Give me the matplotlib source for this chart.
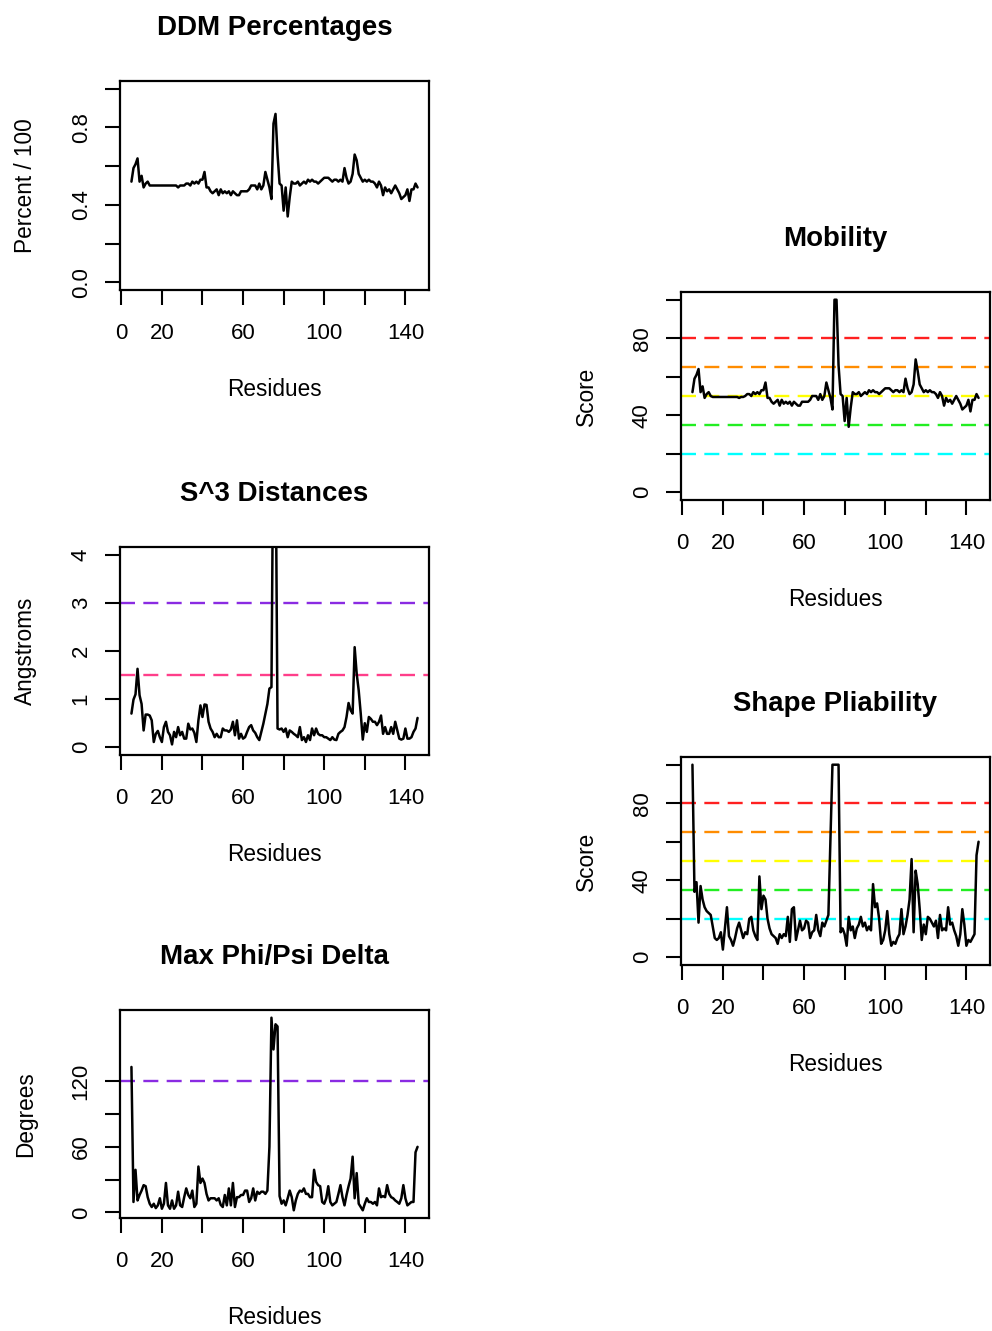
import matplotlib
matplotlib.use("Agg")
import matplotlib.pyplot as plt

plt.rcParams['font.family'] = ['Liberation Sans', 'DejaVu Sans']
plt.rcParams['lines.scale_dashes'] = False

# ---------------- data ----------------
residues = list(range(5, 147))

ddm = [0.52, 0.59, 0.61, 0.64, 0.52, 0.55, 0.49, 0.51, 0.52, 0.50,
       0.50, 0.50, 0.50, 0.50, 0.50, 0.50, 0.50, 0.50, 0.50, 0.50, 0.50, 0.50, 0.50,
       0.49,
       0.50, 0.50, 0.50, 0.51, 0.51, 0.50, 0.52, 0.51, 0.52, 0.51, 0.53, 0.53,
       0.57,
       0.49, 0.49, 0.47, 0.46, 0.47, 0.48, 0.45, 0.48, 0.46, 0.47, 0.46, 0.47, 0.45,
       0.47, 0.46, 0.45, 0.45, 0.47, 0.47, 0.47, 0.47, 0.48, 0.50, 0.50, 0.50, 0.48,
       0.51, 0.48, 0.50, 0.57, 0.53, 0.49, 0.43, 0.82, 0.87, 0.66, 0.51, 0.50, 0.37,
       0.49, 0.34, 0.44, 0.52,
       0.51, 0.51, 0.52, 0.50, 0.51, 0.52, 0.51, 0.53, 0.52, 0.53, 0.52, 0.52, 0.51,
       0.52, 0.53, 0.54, 0.54, 0.54, 0.53, 0.52, 0.53, 0.53, 0.52, 0.53,
       0.52, 0.59, 0.54, 0.51, 0.52, 0.56, 0.66, 0.63, 0.56, 0.54, 0.52, 0.53, 0.52,
       0.53, 0.52, 0.52, 0.51, 0.49,
       0.52, 0.50, 0.45, 0.49, 0.47, 0.48, 0.46, 0.48, 0.50, 0.48, 0.46, 0.43, 0.44,
       0.45, 0.48, 0.42, 0.48, 0.48, 0.51, 0.49]

s3 = [0.70, 0.99, 1.10, 1.63, 1.08, 0.90, 0.35, 0.68, 0.68, 0.66, 0.56, 0.11, 0.28,
      0.34, 0.21, 0.11, 0.42, 0.53, 0.32, 0.25, 0.06, 0.32, 0.21, 0.42, 0.25, 0.32,
      0.18, 0.18, 0.49, 0.37, 0.39, 0.30, 0.11, 0.56, 0.87, 0.63, 0.89, 0.88, 0.53,
      0.39, 0.32, 0.21, 0.28, 0.21, 0.21, 0.39, 0.35, 0.35, 0.32, 0.37, 0.53, 0.25,
      0.56, 0.18, 0.28, 0.18, 0.21, 0.32, 0.42, 0.46, 0.35, 0.30, 0.21, 0.15, 0.32,
      0.49, 0.70, 0.90, 1.22, 1.25, 7.0, 6.5, 0.39, 0.37, 0.39, 0.32, 0.39, 0.21,
      0.35, 0.32, 0.28, 0.25, 0.21, 0.42, 0.15, 0.21, 0.11, 0.25, 0.15, 0.39, 0.25,
      0.39, 0.28, 0.25, 0.25, 0.21, 0.21, 0.18, 0.15, 0.21, 0.16, 0.15, 0.28, 0.32,
      0.35, 0.42, 0.63, 0.92, 0.77, 0.70, 2.08, 1.53, 1.18, 0.70, 0.16, 0.50, 0.32,
      0.63, 0.59, 0.53, 0.53, 0.46, 0.53, 0.66, 0.28, 0.42, 0.28, 0.28, 0.42, 0.28,
      0.53, 0.35, 0.18, 0.16, 0.18, 0.39, 0.18, 0.18, 0.21, 0.32, 0.39, 0.61]

phipsi = [133, 9.6, 39, 11, 16, 20, 25, 24, 14, 8, 5, 8, 4, 6.5, 13, 3.4, 8, 27,
          6.5, 3.4, 11, 3.4, 6.5, 19, 6.5, 5, 14, 22, 16, 13, 20, 5, 8,
          42, 27, 31, 27, 17, 11, 13, 13, 13, 11, 13, 7, 5, 16, 6.5, 22, 6.5, 27,
          5, 14, 14, 16, 16, 20, 20, 9.6, 13, 22, 11, 19, 17, 19, 19, 17, 20,
          60, 178, 149, 172, 170, 15,
          8, 11, 6.5, 13, 20, 14, 2, 11, 17, 20, 19, 22, 17, 17, 14, 14, 39,
          28, 25, 24, 9.6, 8, 13, 24,
          9.6, 6.5, 8, 9.6, 17, 25, 14, 6.5, 16, 24, 31, 51, 13, 36,
          8, 5, 2, 8, 13, 9.6, 9.6, 8, 9.6, 6.5, 22, 14, 15, 14, 25, 17, 14, 13,
          11, 9.6, 8, 13, 25, 13, 6.5, 8, 9.6, 9.6, 55, 60]

mobility = [52, 59, 61, 64, 52, 55, 49, 51, 52, 50,
            49.5, 49.5, 49.5, 49.5, 49.5, 49.5, 49.5, 49.5, 49.5, 49.5, 49.5, 49.5, 49.5,
            49,
            49.5, 49.5, 50, 51, 51, 50, 52, 51, 52, 51, 53, 53,
            57,
            49, 49, 47, 46, 47, 48, 45, 48, 46, 47, 46, 47, 45, 47, 46, 45, 45, 47, 47,
            47, 47, 48, 50, 50, 50, 48, 51, 48, 50, 57, 53, 49, 43, 100, 100, 66, 51,
            50, 37, 49, 34, 44, 52,
            51, 51, 52, 50, 51, 52, 51, 53, 52, 53, 52, 52, 51, 52, 53, 54, 54, 54, 53,
            52, 53, 53, 52, 53,
            52, 59, 54, 51, 52, 56, 69, 63, 56, 54, 52, 53, 52, 53, 52, 52, 51, 49,
            52, 50, 45, 49, 47, 48, 46, 48, 50, 48, 46, 43, 44, 45, 48, 42, 48, 48, 51, 49]

pliability = [100, 34, 39, 18, 37, 30, 26, 24, 23, 22, 16, 10, 9, 10, 13, 4, 15, 26,
              11, 9, 6, 10, 15, 18, 14, 10, 13, 12, 20, 21, 14, 11, 9, 42, 25, 32, 30,
              20, 15, 12, 11, 10, 7, 12, 10, 12, 11, 21, 8, 25, 26, 9, 14, 19, 14, 15,
              19, 18, 10, 13, 14, 22, 14, 11, 18, 16, 19, 22, 60, 100, 100, 100, 100,
              13, 15, 12, 6, 21, 14, 16, 10, 15, 17, 21, 16, 18, 14, 16, 14, 38, 26, 28,
              20, 7, 9, 14, 24, 12, 6, 8, 7, 10, 12, 25, 12, 16, 22, 30, 51, 13, 45, 38,
              25, 9, 17, 12, 21, 20, 18, 16, 19, 10, 22, 14, 15, 14, 26, 17, 18, 14, 11,
              6, 12, 25, 17, 6, 9, 8, 10, 12, 53, 60]

for series in (ddm, s3, phipsi, mobility, pliability):
    assert len(series) == len(residues), len(series)

x_ticks = [0, 20, 40, 60, 80, 100, 120, 140]
x_ticklabels = ['0', '20', '', '60', '', '100', '', '140']

ddm_yticks = [0.0, 0.2, 0.4, 0.6, 0.8, 1.0]
ddm_yticklabels = ['0.0', '', '0.4', '', '0.8', '']
s3_yticks = [0, 1, 2, 3, 4]
s3_yticklabels = ['0', '1', '2', '3', '4']
phipsi_yticks = [0, 30, 60, 90, 120]
phipsi_yticklabels = ['0', '', '60', '', '120']
score_yticks = [0, 20, 40, 60, 80, 100]
score_yticklabels = ['0', '', '40', '', '80', '']

s3_thresholds = [3.0, 1.5]
s3_colors = ['#8A2BE2', '#FF3E8A']
phipsi_thresholds = [120]
phipsi_colors = ['#8A2BE2']
score_thresholds = [80, 65, 50, 35, 20]
score_colors = ['#FF2020', '#FF8C00', '#FFFF00', '#22EE22', '#00FFFF']

# ---------------- layout (pixels) ----------------
W, H = 992, 1331
fig = plt.figure(figsize=(W / 100, H / 100), dpi=100)


def fx(px):
    return px / W


def fy(py):
    return 1 - py / H


def rpad(lo, hi):
    d = (hi - lo) * 0.04
    return lo - d, hi + d


panels = [
    dict(title='DDM Percentages', y=ddm, ylim=(0, 1), yt=ddm_yticks, ytl=ddm_yticklabels,
         ylabel='Percent / 100', th=[], tc=[], box=(120, 81, 429, 290)),
    dict(title='S^3 Distances', y=s3, ylim=(0, 4), yt=s3_yticks, ytl=s3_yticklabels,
         ylabel='Angstroms', th=s3_thresholds, tc=s3_colors, box=(120, 547, 429, 755)),
    dict(title='Max Phi/Psi Delta', y=phipsi, ylim=(min(phipsi), max(phipsi)),
         yt=phipsi_yticks, ytl=phipsi_yticklabels, ylabel='Degrees',
         th=phipsi_thresholds, tc=phipsi_colors, box=(120, 1010, 429, 1218)),
    dict(title='Mobility', y=mobility, ylim=(0, 100), yt=score_yticks, ytl=score_yticklabels,
         ylabel='Score', th=score_thresholds, tc=score_colors, box=(681, 292, 990, 500)),
    dict(title='Shape Pliability', y=pliability, ylim=(0, 100), yt=score_yticks,
         ytl=score_yticklabels, ylabel='Score', th=score_thresholds, tc=score_colors,
         box=(681, 757, 990, 965)),
]

LW = 1.8
for p in panels:
    x0, y0, x1, y1 = p['box']
    ax = fig.add_axes([fx(x0), fy(y1), (x1 - x0) / W, (y1 - y0) / H])
    for yv, c in zip(p['th'], p['tc']):
        ax.axhline(yv, color=c, lw=1.7, dashes=(10.8, 6.0), zorder=2)
    ax.plot(residues, p['y'], color='black', lw=LW, solid_joinstyle='round',
            solid_capstyle='round', zorder=3)
    ax.set_xlim(*rpad(min(residues), max(residues)))
    ax.set_ylim(*rpad(*p['ylim']))
    ax.set_xticks(x_ticks)
    ax.set_xticklabels(x_ticklabels)
    ax.set_yticks(p['yt'])
    ax.set_yticklabels(p['ytl'], rotation=90, va='center')
    ax.tick_params(axis='both', direction='out', length=10.8, width=1.5,
                   labelsize=16, colors='black')
    ax.tick_params(axis='x', pad=13.0)
    ax.tick_params(axis='y', pad=9.6)
    for s in ax.spines.values():
        s.set_linewidth(1.6)
    cx = (x0 + x1) / 2
    fig.text(fx(cx), fy(y0 - 46), p['title'], ha='center', va='baseline',
             fontsize=19.9, fontweight='bold')
    fig.text(fx(cx), fy(y1 + 106), 'Residues', ha='center', va='baseline', fontsize=16.3)
    fig.text(fx(x0 - 88), fy((y0 + y1) / 2), p['ylabel'], rotation=90,
             rotation_mode='anchor', ha='center', va='baseline', fontsize=16.3)

fig.savefig('out.png', dpi=100)
